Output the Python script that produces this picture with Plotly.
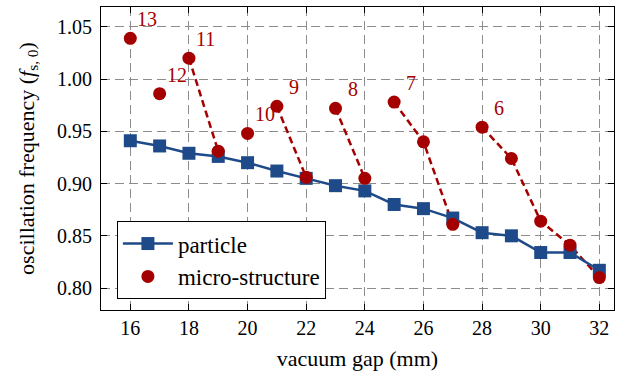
import plotly.graph_objects as go

gap = list(range(16, 33))
particle = [0.941, 0.936, 0.929, 0.926, 0.920, 0.912, 0.905, 0.898, 0.893,
            0.880, 0.876, 0.867, 0.853, 0.850, 0.834, 0.834, 0.817]
micro = [1.039, 0.986, 1.020, 0.931, 0.948, 0.974, 0.906, 0.972, 0.905,
         0.978, 0.940, 0.861, 0.954, 0.924, 0.864, 0.841, 0.810]
# dashed connections (by vacuum gap)
groups = [[18, 19], [21, 22], [23, 24], [25, 26, 27], [28, 29, 30, 31, 32]]
# labelled micro-structure points
label_gap = [16, 17, 18, 20, 21, 23, 25, 28]
label_txt = ["13", "12", "11", "10", "9", "8", "7", "6"]

BLUE = "#1f4a8a"
RED = "#a50000"
FONT = "Liberation Serif"

fig = go.Figure()
for g in groups:
    fig.add_trace(go.Scatter(
        x=g, y=[micro[gap.index(v)] for v in g], mode="lines",
        line=dict(color=RED, width=2.5, dash="7px,4px"), showlegend=False,
        hoverinfo="skip"))
fig.add_trace(go.Scatter(
    x=gap, y=particle, mode="lines+markers", name="particle",
    line=dict(color=BLUE, width=2.5),
    marker=dict(symbol="square", size=13, color=BLUE)))
fig.add_trace(go.Scatter(
    x=gap, y=micro, mode="markers", name="micro-structure",
    marker=dict(symbol="circle", size=13, color=RED)))

for gv, t in zip(label_gap, label_txt):
    fig.add_annotation(x=gv, y=micro[gap.index(gv)], text=t, showarrow=False,
                       xshift=17, yshift=19, font=dict(color=RED, size=20, family=FONT))

axis_common = dict(showline=True, linecolor="black", linewidth=1, mirror="ticks",
                   ticks="inside", ticklen=6, tickcolor="black",
                   showgrid=True, gridcolor="#8c8c8c", griddash="9px,5px", gridwidth=1,
                   zeroline=False, tickfont=dict(size=20, family=FONT, color="black"))

fig.update_layout(
    width=635, height=375,
    margin=dict(l=101, r=21, t=7, b=65),
    plot_bgcolor="white", paper_bgcolor="white",
    font=dict(family=FONT, color="black"),
    xaxis=dict(range=[15, 32.5], tickvals=list(range(16, 33, 2)),
               title=dict(text="vacuum gap (mm)", font=dict(size=22, family=FONT), standoff=12),
               **axis_common),
    yaxis=dict(range=[0.779, 1.069], tickvals=[0.80, 0.85, 0.90, 0.95, 1.00, 1.05],
               tickformat=".2f", ticklabelstandoff=4,
               title=dict(text="oscillation frequency (<i>f</i><sub>s, 0</sub>)",
                          font=dict(size=22, family=FONT), standoff=16),
               **axis_common),
    legend=dict(x=0.031, y=0.036, xanchor="left", yanchor="bottom",
                bordercolor="black", borderwidth=1, bgcolor="white",
                font=dict(size=23, family=FONT), tracegroupgap=0, itemwidth=50),
)

fig.write_html("out.html")
